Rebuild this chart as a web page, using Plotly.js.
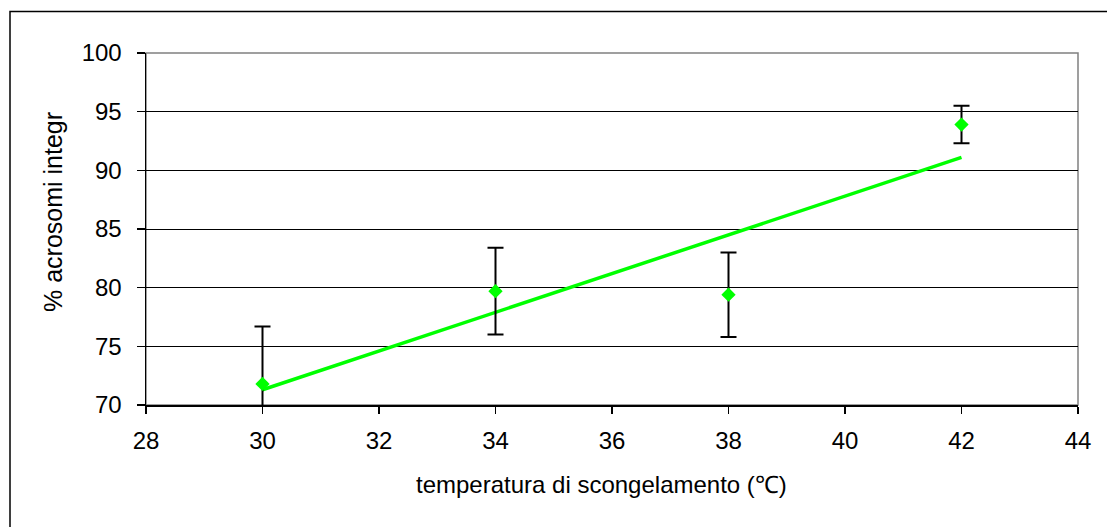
<!DOCTYPE html>
<html>
<head>
<meta charset="utf-8">
<script src="https://cdn.plot.ly/plotly-3.0.1.min.js"></script>
<style>
html,body{margin:0;padding:0;background:#fff;}
#chart{width:1107px;height:527px;}
</style>
</head>
<body>
<div id="chart"></div>
<script>
// Data
var temperatures = [30, 34, 38, 42];
var acrosomiIntegri = [71.8, 79.7, 79.4, 93.9];
var errorValues = [4.9, 3.7, 3.6, 1.6];
var xTickValues = [28, 30, 32, 34, 36, 38, 40, 42, 44];
var yTickValues = [70, 75, 80, 85, 90, 95, 100];
var xTitle = 'temperatura di scongelamento (\u2103)';
var yTitle = '% acrosomi integr';

// Linear trendline (least squares) computed from the series
var n = temperatures.length;
var mx = temperatures.reduce(function(a,b){return a+b;},0)/n;
var my = acrosomiIntegri.reduce(function(a,b){return a+b;},0)/n;
var sxy = 0, sxx = 0;
for (var i = 0; i < n; i++) {
  sxy += (temperatures[i]-mx)*(acrosomiIntegri[i]-my);
  sxx += (temperatures[i]-mx)*(temperatures[i]-mx);
}
var slope = sxy/sxx, intercept = my - slope*mx;
var trendX = [temperatures[0], temperatures[n-1]];
var trendY = trendX.map(function(x){return intercept + slope*x;});

var font = 'Liberation Sans, Arial, sans-serif';

var traces = [
  {
    x: trendX, y: trendY, type: 'scatter', mode: 'lines',
    line: {color: '#00FF00', width: 3.5}, hoverinfo: 'skip', showlegend: false
  },
  {
    x: temperatures, y: acrosomiIntegri, type: 'scatter', mode: 'markers',
    marker: {symbol: 'diamond', size: 11, color: '#00FF00'},
    error_y: {type: 'data', array: errorValues, visible: true, color: '#000000', thickness: 2, width: 8},
    showlegend: false
  }
];

var layout = {
  width: 1107, height: 527,
  margin: {l: 146, r: 29, t: 53, b: 122},
  paper_bgcolor: '#ffffff', plot_bgcolor: '#ffffff',
  font: {family: font, size: 24, color: '#000000'},
  showlegend: false,
  xaxis: {
    range: [28, 44], tickvals: xTickValues, ticktext: xTickValues.map(String),
    showgrid: false, zeroline: false,
    showline: true, linecolor: '#000000', linewidth: 1.5,
    ticks: 'outside', ticklen: 7, tickwidth: 1.5, tickcolor: '#000000',
    ticklabelstandoff: 7,
    tickfont: {family: font, size: 24, color: '#000'}
  },
  yaxis: {
    range: [70, 100], tickvals: yTickValues, ticktext: yTickValues.map(String),
    showgrid: true, gridcolor: '#000000', gridwidth: 1, zeroline: false,
    showline: true, linecolor: '#000000', linewidth: 1.5,
    ticks: 'outside', ticklen: 8, tickwidth: 1.5, tickcolor: '#000000',
    ticklabelstandoff: 10,
    tickfont: {family: font, size: 24, color: '#000'}
  },
  shapes: [
    {type: 'rect', xref: 'paper', yref: 'paper', x0: 0, x1: 1, y0: 0, y1: 1,
     line: {color: '#808080', width: 1.5}, layer: 'below'},
    {type: 'rect', xref: 'paper', yref: 'paper',
     x0: (10-146)/932, x1: (1115-146)/932, y0: (405-535)/352, y1: 1 + (53-11.5)/352,
     line: {color: '#000000', width: 1.5}, layer: 'below'}
  ],
  annotations: [
    {text: xTitle, xref: 'paper', yref: 'paper', x: (601-146)/932, y: (405-484)/352,
     showarrow: false, xanchor: 'center', yanchor: 'middle',
     font: {family: font, size: 24, color: '#000'}},
    {text: yTitle, xref: 'paper', yref: 'paper', x: (53-146)/932, y: (405-212)/352,
     showarrow: false, xanchor: 'center', yanchor: 'middle', textangle: -90,
     font: {family: font, size: 25, color: '#000'}}
  ]
};

Plotly.newPlot('chart', traces, layout, {displayModeBar: false, staticPlot: true});
</script>
</body>
</html>
